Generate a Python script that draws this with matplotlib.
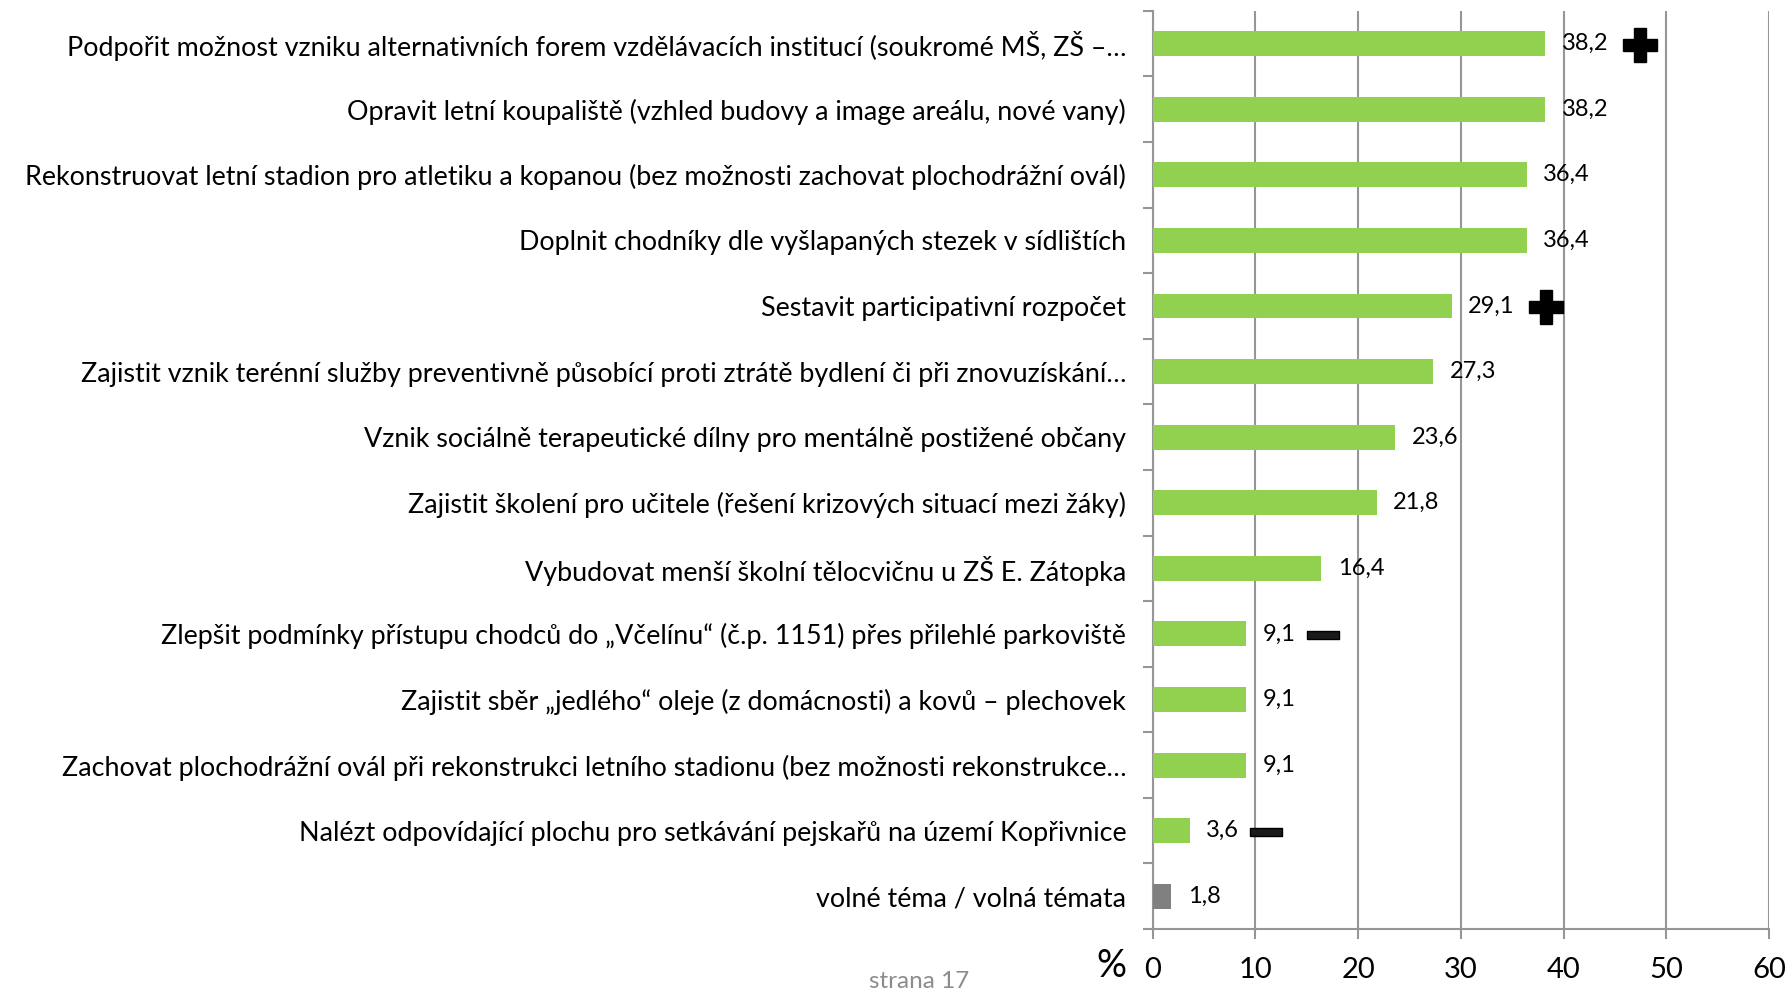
import matplotlib
matplotlib.use("Agg")
import matplotlib.pyplot as plt
from matplotlib.transforms import offset_copy

plt.rcParams['font.family'] = ['Lato', 'DejaVu Sans']

topics = [
    'Podpořit možnost vzniku alternativních forem vzdělávacích institucí (soukromé MŠ, ZŠ –…',
    'Opravit letní koupaliště (vzhled budovy a image areálu, nové vany)',
    'Rekonstruovat letní stadion pro atletiku a kopanou (bez možnosti zachovat plochodrážní ovál)',
    'Doplnit chodníky dle vyšlapaných stezek v sídlištích',
    'Sestavit participativní rozpočet',
    'Zajistit vznik terénní služby preventivně působící proti ztrátě bydlení či při znovuzískání…',
    'Vznik sociálně terapeutické dílny pro mentálně postižené občany',
    'Zajistit školení pro učitele (řešení krizových situací mezi žáky)',
    'Vybudovat menší školní tělocvičnu u ZŠ E. Zátopka',
    'Zlepšit podmínky přístupu chodců do „Včelínu“ (č.p. 1151) přes přilehlé parkoviště',
    'Zajistit sběr „jedlého“ oleje (z domácnosti) a kovů – plechovek',
    'Zachovat plochodrážní ovál při rekonstrukci letního stadionu (bez možnosti rekonstrukce…',
    'Nalézt odpovídající plochu pro setkávání pejskařů na území Kopřivnice',
    'volné téma / volná témata',
]
percent = [38.2, 38.2, 36.4, 36.4, 29.1, 27.3, 23.6, 21.8, 16.4, 9.1, 9.1, 9.1, 3.6, 1.8]
trend = ['+', '', '', '', '+', '', '', '', '', '-', '', '', '-', '']
x_ticks = [0, 10, 20, 30, 40, 50, 60]

GREEN = '#92D050'
GREY_BAR = '#808080'
AXIS = '#969696'

fig = plt.figure(figsize=(17.87, 9.9), dpi=100)
ax = fig.add_axes([0.645, 0.0616, 0.345, 0.9274])

n = len(topics)
ypos = list(range(n))
colors = [GREEN] * (n - 1) + [GREY_BAR]
bars = ax.barh(ypos, percent, height=0.38, color=colors, zorder=3)

ax.set_xlim(0, 60)
ax.set_ylim(n - 0.5, -0.5)
ax.set_xticks(x_ticks)
ax.set_xticklabels([str(t) for t in x_ticks], fontsize=21)
ax.xaxis.grid(True, color=AXIS, linewidth=1.5, zorder=0)

ax.set_yticks(ypos)
ax.set_yticklabels(topics, fontsize=19.4)
ax.set_yticks([i - 0.5 for i in range(n + 1)], minor=True)
ax.tick_params(axis='y', which='major', length=0, pad=19)
ax.tick_params(axis='y', which='minor', length=7, width=1.5, color=AXIS)
ax.tick_params(axis='x', length=7, width=1.5, color=AXIS, pad=13)

for side in ['top', 'right']:
    ax.spines[side].set_visible(False)
for side in ['left', 'bottom']:
    ax.spines[side].set_color(AXIS)
    ax.spines[side].set_linewidth(1.5)

for y, v in zip(ypos, percent):
    ax.annotate(f'{v:.1f}'.replace('.', ','), xy=(v, y), xytext=(12, 0),
                textcoords='offset points', va='center', ha='left', fontsize=17)

minus_marker = [(-1, -0.22), (1, -0.22), (1, 0.22), (-1, 0.22), (-1, -0.22)]
for y, v, t in zip(ypos, percent, trend):
    if t == '+':
        tr = offset_copy(ax.transData, fig=fig, x=68, y=-1, units='points')
        ax.plot([v], [y], marker='P', markersize=24, color='black', transform=tr,
                clip_on=False, zorder=5)
    elif t == '-':
        tr = offset_copy(ax.transData, fig=fig, x=55, y=-1, units='points')
        ax.plot([v], [y], marker=minus_marker, markersize=23, color='#1a1a1a',
                markeredgecolor='black', transform=tr, clip_on=False, zorder=5)

fig.text(1126 / 1787, 1 - 966 / 990, '%', fontsize=27, ha='right', va='center')
fig.text(919 / 1787, 1 - 981 / 990, 'strana 17', fontsize=17.5, color='#8c8c8c',
         ha='center', va='center')

fig.savefig('out.png', dpi=100)
